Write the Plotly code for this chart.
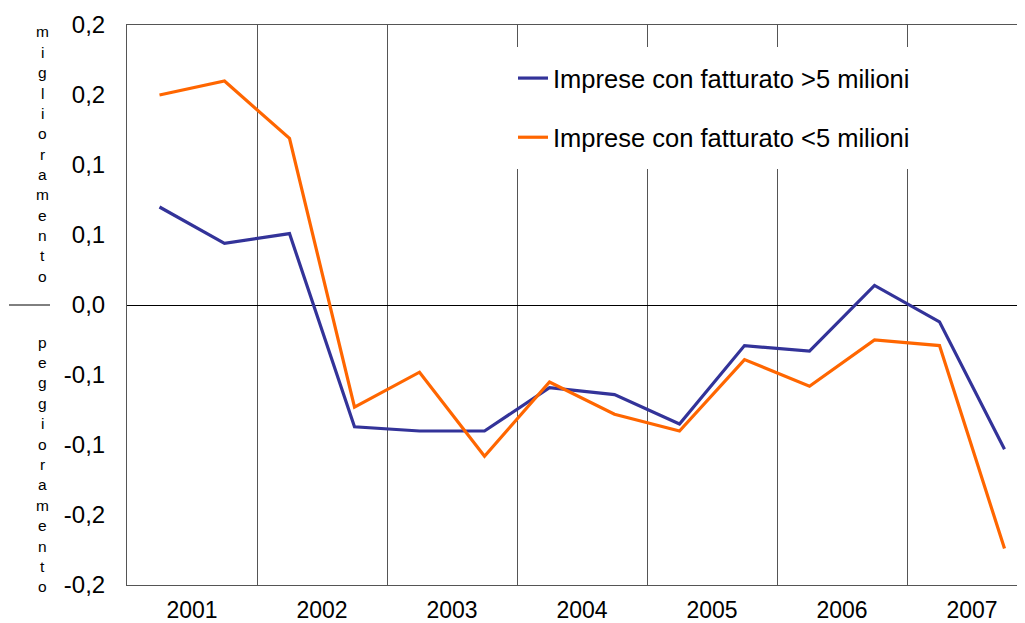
import plotly.graph_objects as go

years = ["2001", "2002", "2003", "2004", "2005", "2006", "2007"]
periods = [f"{y}-{h}" for y in years for h in ("I", "II")]

big_firms = [0.070, 0.044, 0.051, -0.087, -0.090, -0.090, -0.059, -0.064,
             -0.085, -0.029, -0.033, 0.014, -0.012, -0.103]
small_firms = [0.150, 0.160, 0.119, -0.073, -0.048, -0.108, -0.055, -0.078,
               -0.090, -0.039, -0.058, -0.025, -0.029, -0.174]

y_tickvals = [0.2, 0.15, 0.1, 0.05, 0.0, -0.05, -0.1, -0.15, -0.2]
y_ticktext = ["0,2", "0,2", "0,1", "0,1", "0,0", "-0,1", "-0,1", "-0,2", "-0,2"]

name_big = "Imprese con fatturato >5 milioni"
name_small = "Imprese con fatturato <5 milioni"

FONT = "Liberation Sans, Arial, sans-serif"
O = 8  # default page body margin
W, H = 1025 - O, 623 - O
L, T = 127 - O, 25 - O
B = H - (585 - O)
PH = H - T - B
plot_w = W - L

def py(ypx):  # target screen y pixel -> paper fraction
    return (H - B - (ypx - O)) / PH

def px(xpx):  # target screen x pixel -> paper fraction
    return (xpx - O - L) / plot_w

xs = list(range(len(periods)))

fig = go.Figure()
fig.add_trace(go.Scatter(x=xs, y=big_firms, mode="lines", name=name_big,
                         line=dict(color="#333399", width=3.2), legendgroup="a",
                         text=periods, hovertemplate="%{text}: %{y}<extra></extra>"))
fig.add_trace(go.Scatter(x=xs, y=small_firms, mode="lines", name=name_small,
                         line=dict(color="#FF6600", width=3.2), legendgroup="b",
                         text=periods, hovertemplate="%{text}: %{y}<extra></extra>"))

year_pos = [2 * i + 0.5 for i in range(len(years))]
px_per_cat = 65
x_range = [-0.5, -0.5 + plot_w / px_per_cat]

fig.update_layout(
    width=W, height=H,
    margin=dict(l=L, r=0, t=T, b=B, pad=0, autoexpand=False),
    plot_bgcolor="white", paper_bgcolor="white",
    font=dict(family=FONT, size=24, color="black"),
    showlegend=True,
    legend=dict(x=px(505), y=py(47),
                xanchor="left", yanchor="top",
                bgcolor="white", bordercolor="white", borderwidth=8,
                font=dict(size=25.5, family=FONT),
                traceorder="grouped", tracegroupgap=23,
                itemwidth=30),
    xaxis=dict(range=x_range, tickmode="array", tickvals=year_pos, ticktext=years,
               showgrid=False, zeroline=False, showline=True, linecolor="#555",
               linewidth=1, mirror=True, ticks="", ticklabelstandoff=4,
               automargin=False, tickfont=dict(size=23),
               minor=dict(tickmode="linear", tick0=1.5, dtick=2, showgrid=True,
                          gridcolor="#555", gridwidth=1, ticks="")),
    yaxis=dict(range=[-0.2, 0.2], tickmode="array", tickvals=y_tickvals,
               ticktext=y_ticktext, showgrid=False, zeroline=True,
               zerolinecolor="black", zerolinewidth=1, showline=True,
               linecolor="#555", linewidth=1, mirror=True, ticks="",
               automargin=False, ticklabelstandoff=16, tickfont=dict(size=24)),
)

def stacked(word, y_first_px, step_px):
    for i, ch in enumerate(word):
        fig.add_annotation(text=ch, xref="paper", yref="paper",
                           x=px(42), y=py(y_first_px + i * step_px),
                           xanchor="center", yanchor="middle", showarrow=False,
                           font=dict(size=15.5, family=FONT, color="black"))

stacked("miglioramento", 32, 20.35)
stacked("peggioramento", 342, 20.4)

fig.add_shape(type="line", xref="paper", yref="paper",
              x0=px(9), x1=px(50), y0=py(305), y1=py(305),
              line=dict(color="black", width=1))

fig.write_html("out.html")
